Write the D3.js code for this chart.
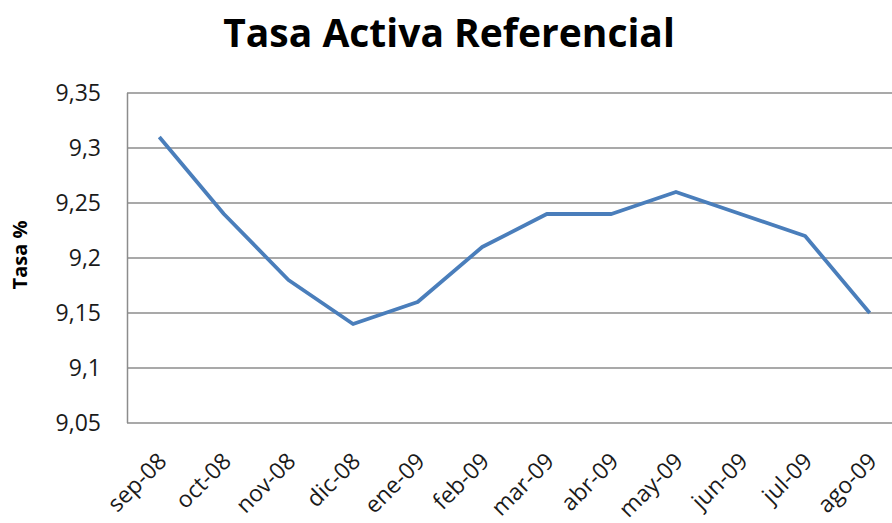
<!DOCTYPE html>
<meta charset="utf-8">
<style>
  body { margin: 0; background: #fff; }
  text { font-family: "Open Sans", "Noto Sans", sans-serif; }
</style>
<script src="https://d3js.org/d3.v7.min.js"></script>
<div id="chart"></div>
<script>

// data
var months = ["sep-08","oct-08","nov-08","dic-08","ene-09","feb-09","mar-09","abr-09","may-09","jun-09","jul-09","ago-09"];
var tasa = [9.31, 9.24, 9.18, 9.14, 9.16, 9.21, 9.24, 9.24, 9.26, 9.24, 9.22, 9.15];
var yTicks = [9.05, 9.1, 9.15, 9.2, 9.25, 9.3, 9.35];

var width = 892, height = 523;

var svg = d3.select("#chart")
  .append("svg")
    .attr("width", width)
    .attr("height", height);

// plot area runs past the right edge, like the cropped original
var x = d3.scalePoint()
  .domain(months)
  .range([127, 902])
  .padding(0.5);

var y = d3.scaleLinear()
  .domain([9.05, 9.35])
  .range([423, 93]);

// gridlines
svg.append("g")
  .selectAll("line")
  .data(yTicks)
  .enter()
  .append("line")
    .attr("x1", 127)
    .attr("x2", width)
    .attr("y1", function(d) { return y(d) })
    .attr("y2", function(d) { return y(d) })
    .attr("stroke", "#8c8c8c")
    .attr("stroke-width", 1.5)

// left axis line
svg.append("line")
  .attr("x1", 127.5).attr("x2", 127.5)
  .attr("y1", y(9.35)).attr("y2", y(9.05))
  .attr("stroke", "#8c8c8c")
  .attr("stroke-width", 1.5)

// y tick labels
svg.append("g")
  .selectAll("text")
  .data(yTicks)
  .enter()
  .append("text")
    .attr("x", 101)
    .attr("y", function(d) { return y(d) })
    .attr("dy", "0.35em")
    .attr("text-anchor", "end")
    .style("font-size", "23px")
    .style("fill", "#1a1a1a")
    .text(function(d) { return d3.format(".2~f")(d).replace(".", ",") })

// x tick labels, rotated
svg.append("g")
  .selectAll("text")
  .data(months)
  .enter()
  .append("text")
    .attr("transform", function(d) { return "translate(" + (x(d) + 3) + ",457) rotate(-45)" })
    .attr("text-anchor", "end")
    .attr("dy", "0.35em")
    .style("font-size", "23px")
    .style("fill", "#1a1a1a")
    .text(function(d) { return d })

// the line
svg.append("path")
  .datum(tasa)
  .attr("d", d3.line()
    .x(function(d, i) { return x(months[i]) })
    .y(function(d) { return y(d) })
  )
  .attr("fill", "none")
  .attr("stroke", "#4a7ebb")
  .attr("stroke-width", 3.8)
  .attr("stroke-linejoin", "round")

// title
svg.append("text")
  .attr("x", 449)
  .attr("y", 47)
  .attr("text-anchor", "middle")
  .style("font-size", "39px")
  .style("font-weight", "bold")
  .style("fill", "#000")
  .text("Tasa Activa Referencial")

// y axis title
svg.append("text")
  .attr("transform", "translate(27,255) rotate(-90)")
  .attr("text-anchor", "middle")
  .style("font-size", "20px")
  .style("font-weight", "bold")
  .style("fill", "#000")
  .text("Tasa %")

</script>
